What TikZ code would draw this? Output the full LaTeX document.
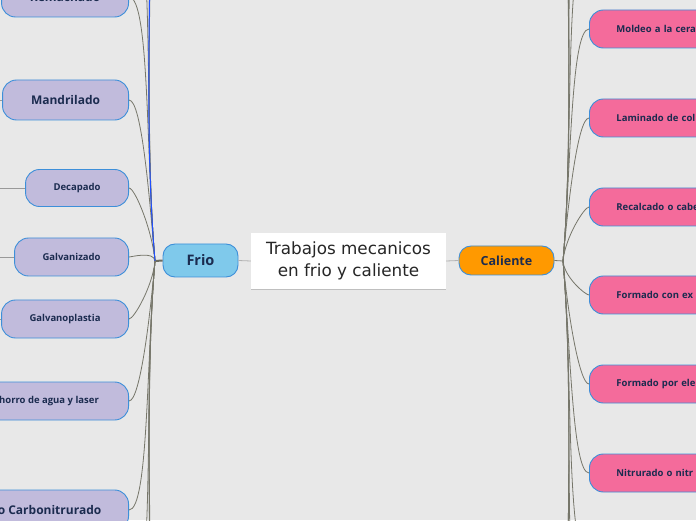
\documentclass[tikz,border=0pt]{standalone}
\usepackage{fontspec}
\setmainfont{Open Sans}
\newfontfamily\ctrfont{DejaVu Sans}
\usetikzlibrary{positioning, shadows}

\definecolor{bgc}{HTML}{E8E8E8}
\definecolor{lilac}{HTML}{C1BBDC}
\definecolor{rose}{HTML}{F46B9B}
\definecolor{edgeblue}{HTML}{3D8FD9}
\definecolor{skyfill}{HTML}{7FC9EB}
\definecolor{amber}{HTML}{FF9900}
\definecolor{navy}{HTML}{1B2B4F}
\definecolor{wire}{HTML}{76766A}
\definecolor{hiblue}{HTML}{1F4FFF}

\begin{document}
\begin{tikzpicture}[
  x=1pt, y=1pt,
  pill/.style={rectangle, draw=edgeblue, line width=0.9pt, rounded corners=14pt,
               inner sep=0pt, text=navy, font=\bfseries\fontsize{9.5}{11}\selectfont},
  coldbox/.style={pill, fill=lilac, anchor=east, minimum height=38pt},
  hotbox/.style={pill, fill=rose, anchor=west, minimum height=38pt,
                 text width=150pt, align=left, inner xsep=27pt},
  bigtxt/.style={font=\bfseries\fontsize{12}{14}\selectfont},
  lnk/.style={draw=wire, line width=0.8pt},
  pale/.style={draw=black!30, line width=0.8pt},
  lftup/.style={out=0, in=95, out looseness=0.2, in looseness=1},
  lftdn/.style={out=0, in=-95, out looseness=0.2, in looseness=1},
  rgtup/.style={out=85, in=180, out looseness=1, in looseness=0.2},
  rgtdn/.style={out=-85, in=180, out looseness=1, in looseness=0.2}
]
  \useasboundingbox (0,0) rectangle (696,520);
  \fill[bgc] (0,0) rectangle (696,520);
  \clip (0,0) rectangle (696,520);

  % Root and main branches
  \node[fill=white, minimum width=195pt, minimum height=56pt, align=center,
        font=\ctrfont\fontsize{16.8}{22}\selectfont, text=black!85,
        general shadow={fill=black!25, shadow yshift=-1pt}]
        (ctr) at (348.5,259) {Trabajos mecanicos\\en frio y caliente};
  \node[pill, fill=skyfill, rounded corners=12pt, minimum width=75pt, minimum height=33pt,
        font=\bfseries\fontsize{14.5}{16}\selectfont] (frio) at (200.5,259.5) {Frio};
  \node[pill, fill=amber, rounded corners=12pt, minimum width=95pt, minimum height=29pt,
        font=\bfseries\fontsize{12.5}{14}\selectfont] (cal) at (506.5,259.5) {Caliente};

  \coordinate (jl) at (155,259);
  \coordinate (jr) at (563,259);

  % Cold processes
  \node[coldbox, bigtxt, minimum width=127pt, minimum height=40pt] (remach) at (129,523) {Remachado};
  \node[coldbox, bigtxt, minimum width=126pt, minimum height=40pt] (mandr) at (129,420) {Mandrilado};
  \node[coldbox, minimum width=103pt, minimum height=37pt] (decap) at (129,332) {Decapado};
  \node[coldbox, minimum width=114pt] (galvz) at (129,263) {Galvanizado};
  \node[coldbox, minimum width=127pt] (galvp) at (129,201) {Galvanoplastia};
  \node[coldbox, minimum width=164pt] (chorro) at (129,119) {chorro de agua y laser};
  \node[coldbox, bigtxt, minimum width=158pt, minimum height=40pt] (carbo) at (129,10) {o Carbonitrurado};

  % Hot processes
  \node[hotbox] (molde) at (589,491) {Moldeo a la cera};
  \node[hotbox] (lamin) at (589,402) {Laminado de col};
  \node[hotbox] (recal) at (589,313) {Recalcado o cabe};
  \node[hotbox] (fexpl) at (589,225) {Formado con ex};
  \node[hotbox] (felec) at (589,136) {Formado por ele};
  \node[hotbox] (nitru) at (589,47)  {Nitrurado o nitr};

  % Off-canvas branch ends
  \coordinate (lu1) at (129,610);
  \coordinate (lu2) at (129,700);
  \coordinate (lu3) at (129,790);
  \coordinate (lu4) at (129,880);
  \coordinate (ld1) at (129,-90);
  \coordinate (ld2) at (129,-180);
  \coordinate (ld3) at (129,-270);
  \coordinate (ld4) at (129,-360);
  \coordinate (ru1) at (589,580);
  \coordinate (ru2) at (589,670);
  \coordinate (ru3) at (589,760);
  \coordinate (ru4) at (589,850);
  \coordinate (rd1) at (589,-40);
  \coordinate (rd2) at (589,-130);
  \coordinate (rd3) at (589,-220);
  \coordinate (rd4) at (589,-310);

  % Root links
  \draw[pale] (ctr.west) -- (frio.east);
  \draw[pale] (ctr.east) -- (cal.west);
  \draw[draw=wire!90!black, line width=2pt] (frio.west) -- (jl);
  \draw[lnk] (cal.east) -- (jr);

  % Left fan
  \draw[lnk] (remach.east) to[lftup] (jl);
  \draw[lnk] (mandr.east) to[lftup] (jl);
  \draw[lnk] (decap.east) to[lftup] (jl);
  \draw[lnk] (galvz.east) to[lftup] (jl);
  \draw[lnk] (galvp.east) to[lftdn] (jl);
  \draw[lnk] (chorro.east) to[lftdn] (jl);
  \draw[lnk] (carbo.east) to[lftdn] (jl);
  \foreach \c in {lu1,lu2,lu3} \draw[lnk] (\c) to[lftup] (jl);
  \draw[draw=hiblue, line width=1pt] (lu4) to[lftup] (jl);
  \foreach \c in {ld1,ld2,ld3,ld4} \draw[lnk] (\c) to[lftdn] (jl);

  % Left sub-branches
  \foreach \n in {mandr,decap,galvz,galvp}
    \draw[draw=black!40, line width=0.8pt] (\n.west) -- ++(-40,0);

  % Right fan
  \draw[lnk] (jr) to[rgtup] (molde.west);
  \draw[lnk] (jr) to[rgtup] (lamin.west);
  \draw[lnk] (jr) to[rgtup] (recal.west);
  \draw[lnk] (jr) to[rgtdn] (fexpl.west);
  \draw[lnk] (jr) to[rgtdn] (felec.west);
  \draw[lnk] (jr) to[rgtdn] (nitru.west);
  \foreach \c in {ru1,ru2,ru3,ru4} \draw[lnk] (jr) to[rgtup] (\c);
  \foreach \c in {rd1,rd2,rd3,rd4} \draw[lnk] (jr) to[rgtdn] (\c);
\end{tikzpicture}
\end{document}
